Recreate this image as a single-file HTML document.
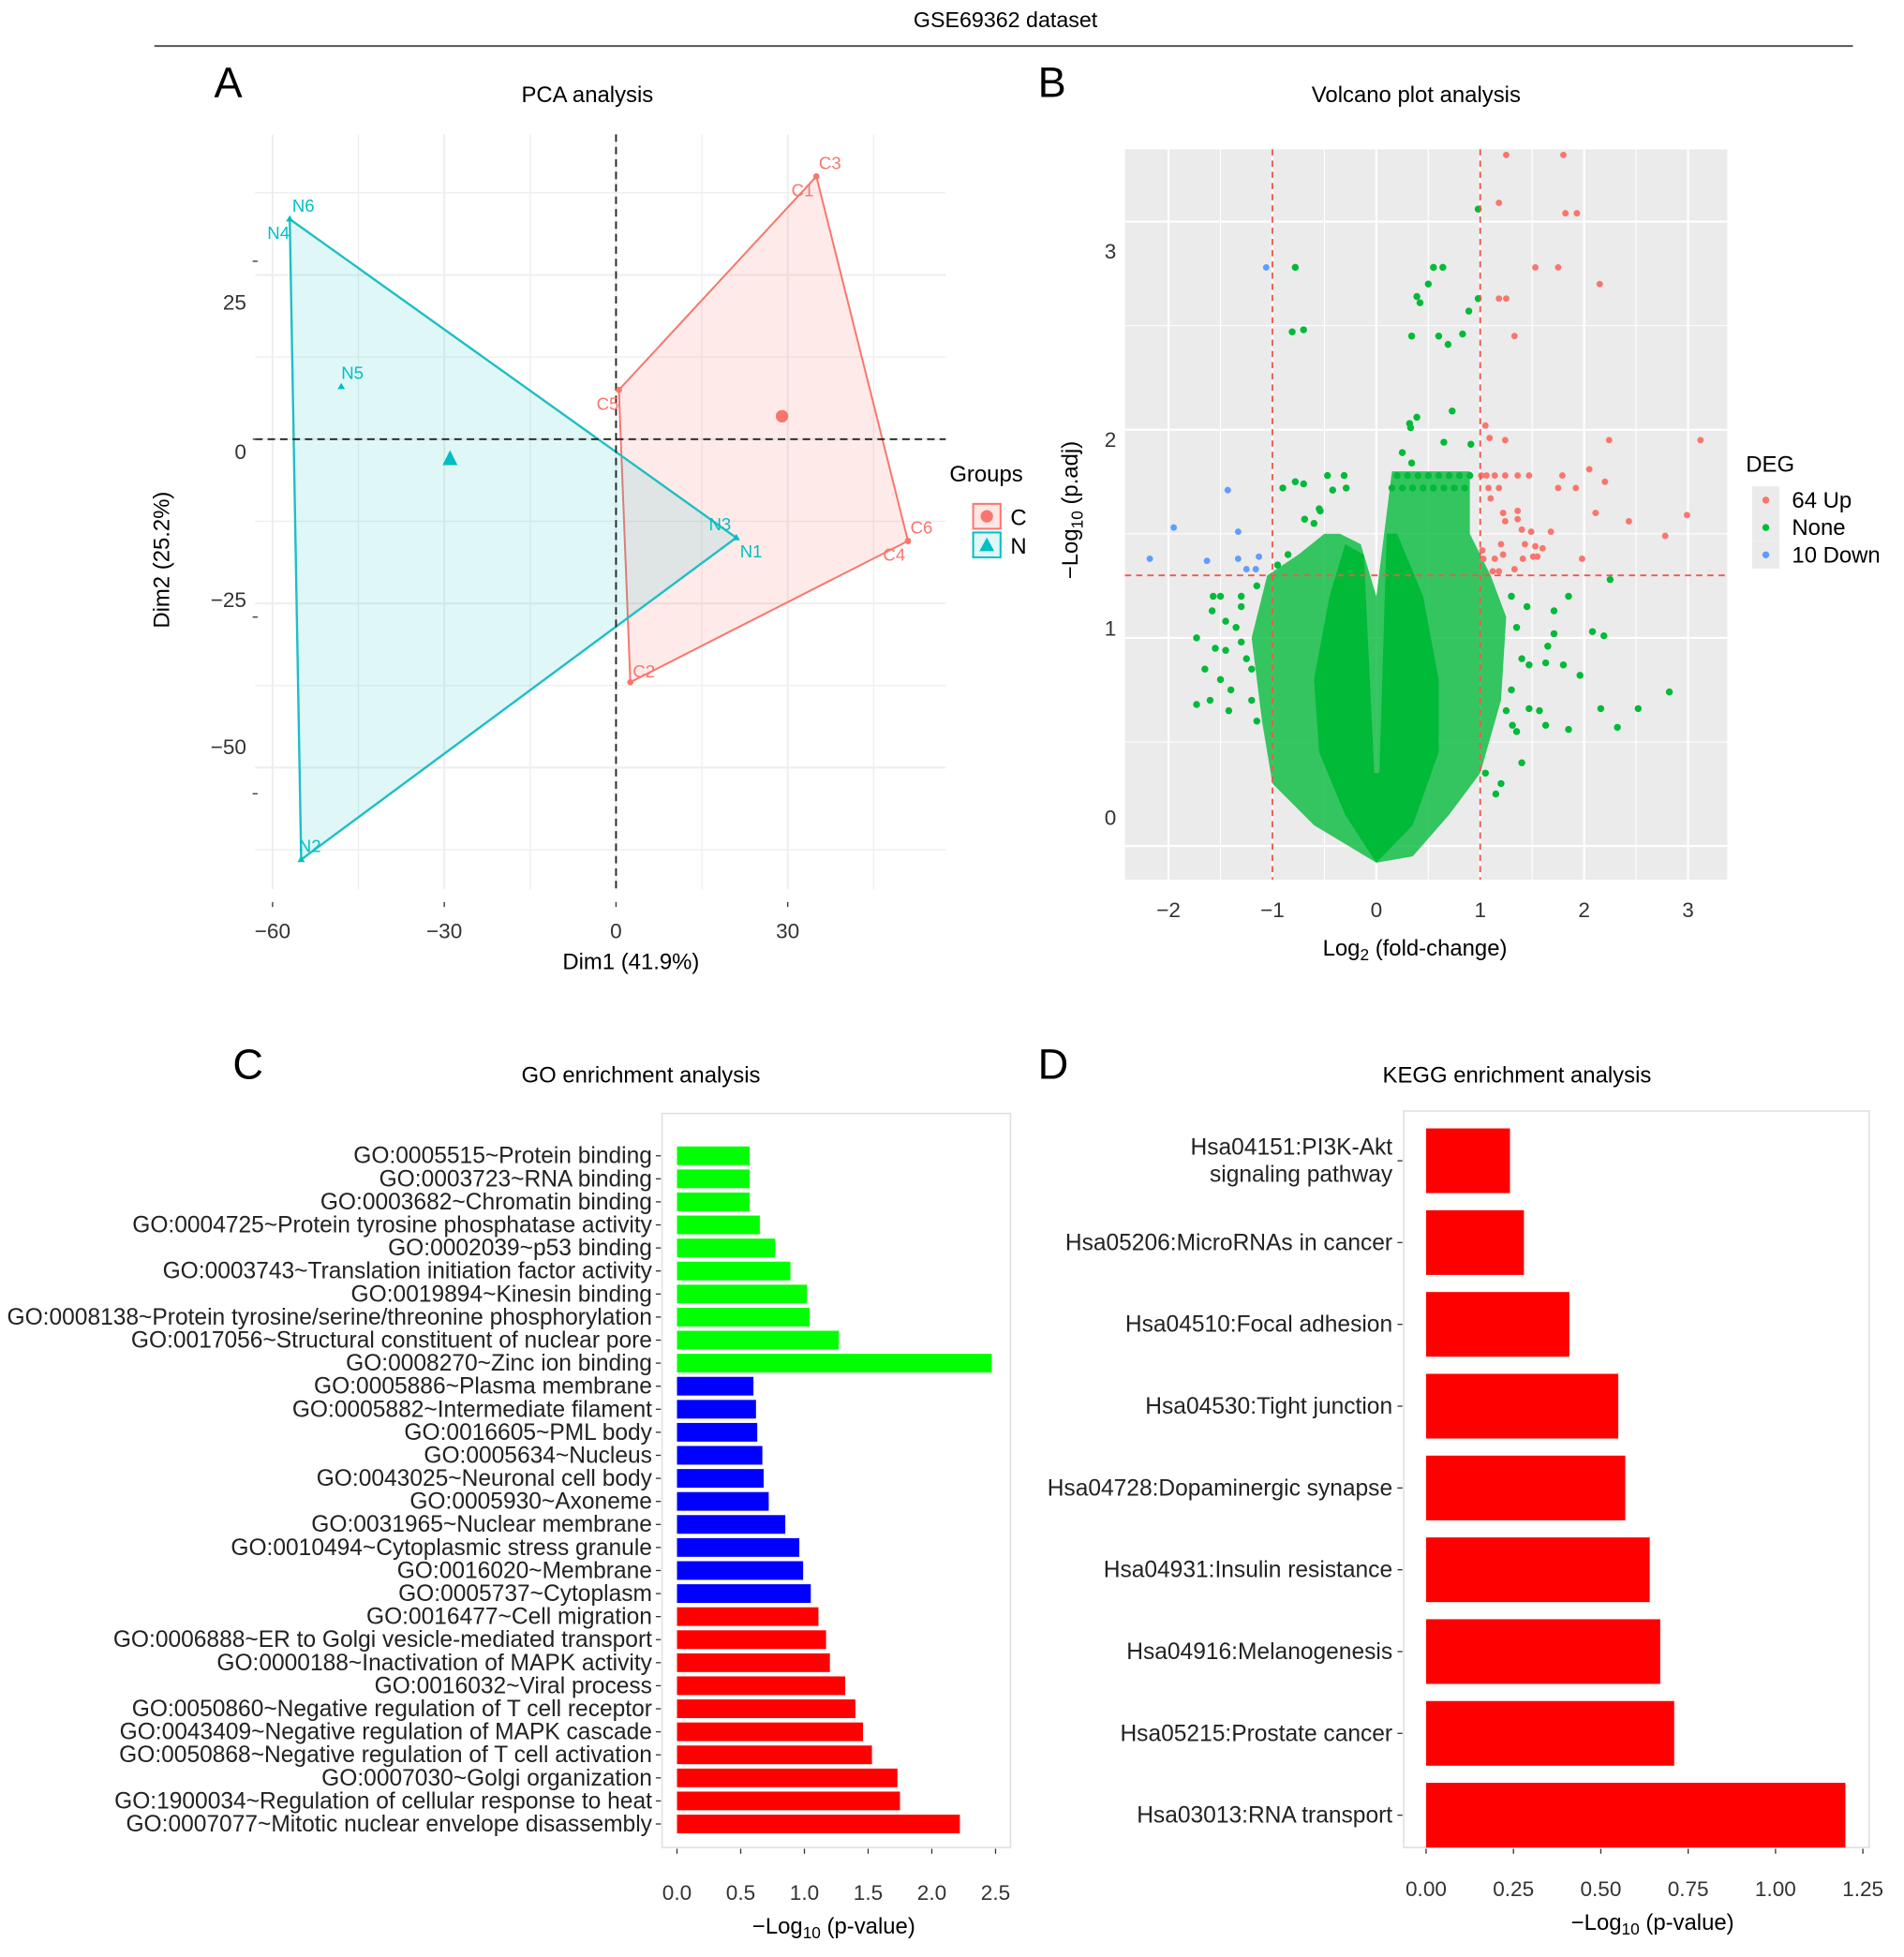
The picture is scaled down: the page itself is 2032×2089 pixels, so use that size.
<!DOCTYPE html>
<html><head><meta charset="utf-8"><style>
html,body{margin:0;padding:0;background:#fff}
svg{display:block;font-family:"Liberation Sans",sans-serif}
</style></head><body>
<svg id="fig" width="2032" height="2089" viewBox="0 0 1530 1573" xmlns="http://www.w3.org/2000/svg">
<text x="808" y="22" font-size="17.5" text-anchor="middle">GSE69362 dataset</text>
<line x1="124" y1="37" x2="1489" y2="37" stroke="#555" stroke-width="1.5"/>
<g id="pA"></g>
<g id="pB"></g>
<g id="pC"></g>
<g id="pD"></g>
</svg>
<script>
// ---------- PCA data ----------
const pcaNames = ["N6","N4","N5","N2","N3","N1","C3","C1","C5","C6","C4","C2"];
const pcaX = [-57,-57,-48,-55,21,21,35,35,0.5,51,51,2.5];
const pcaY = [33.5,33.5,8,-64,-15,-15,40,40,7.5,-15.5,-15.5,-37];
const pcaGroup = ["N","N","N","N","N","N","C","C","C","C","C","C"];
const hullN = ["N6","N2","N1"];
const hullC = ["C3","C6","C2","C5"];
const centroidX = [29,-29];
const centroidY = [3.5,-3];
const pcaXTicks = [-60,-30,0,30];
const pcaYTicks = [25,0,-25,-50];

// ---------- Volcano data ----------
const upX = [1.25,1.80,1.18,1.82,1.93,1.53,1.75,2.15,1.18,1.25,1.33,1.05,1.09,1.24,2.24,3.12,1.01,1.06,1.14,1.24,1.36,1.47,1.79,2.05,1.75,1.92,2.20,1.08,1.18,1.10,1.22,1.36,2.11,2.99,2.43,1.24,1.36,1.40,1.49,1.68,2.78,1.20,1.43,1.53,1.60,1.02,1.22,1.03,1.14,1.41,1.51,1.55,1.98,1.12,1.18,1.33];
const upY = [3.32,3.32,3.09,3.04,3.04,2.78,2.78,2.70,2.63,2.63,2.45,2.02,1.96,1.95,1.95,1.95,1.78,1.78,1.78,1.78,1.78,1.78,1.78,1.81,1.72,1.72,1.75,1.72,1.72,1.67,1.60,1.61,1.60,1.59,1.56,1.56,1.57,1.52,1.51,1.51,1.49,1.45,1.45,1.44,1.43,1.42,1.40,1.38,1.38,1.38,1.39,1.39,1.38,1.32,1.32,1.33];
const downX = [-1.06,-1.43,-1.95,-1.33,-2.18,-1.63,-1.33,-1.13,-1.25,-1.16];
const downY = [2.78,1.71,1.53,1.51,1.38,1.37,1.38,1.39,1.33,1.33];
const noneX = [0.98,-0.78,0.55,0.64,0.50,0.39,0.42,0.98,0.89,-0.81,-0.70,0.34,0.60,0.69,0.83,0.73,0.39,0.32,0.33,0.65,0.91,0.25,0.34,-0.78,-0.70,-0.47,-0.31,-0.42,-0.29,-0.54,-0.69,2.25,1.85,1.71,1.71,2.08,2.19,1.65,1.47,1.63,1.80,1.96,2.82,2.16,2.52,2.32,1.85,1.63,1.47,1.57,1.31,-1.73,-1.73,-1.60,-1.42,-1.57,-1.50,-1.58,-1.45,0.2,0.3,0.4,0.5,0.6,0.7,0.8,0.9,0.15,0.25,0.35,0.45,0.55,0.65,0.75,0.85,-0.9,-1.3,-1.35,-1.5,-1.25,-1.15,-1.4,-1.2,-1.3,-1.55,-1.65,-1.45,-1.3,-1.2,-1.15,1.3,1.35,1.4,1.3,1.25,1.45,1.35,1.4,1.2,1.15,1.05,-0.95,-0.85,-0.6,-0.55];
const noneY = [3.06,2.78,2.78,2.78,2.70,2.64,2.61,2.63,2.57,2.47,2.48,2.45,2.45,2.41,2.46,2.09,2.06,2.03,2.01,1.94,1.93,1.89,1.84,1.75,1.74,1.78,1.78,1.71,1.72,1.61,1.57,1.28,1.20,1.13,1.02,1.03,1.01,0.96,0.87,0.88,0.87,0.82,0.74,0.66,0.66,0.57,0.56,0.58,0.66,0.65,0.58,1.00,0.68,0.70,0.65,1.20,1.20,1.13,0.94,1.78,1.78,1.78,1.78,1.78,1.78,1.78,1.78,1.72,1.72,1.72,1.72,1.72,1.72,1.72,1.72,1.72,1.20,1.05,0.80,0.90,0.60,0.75,0.85,0.98,0.95,0.85,1.08,1.15,0.70,1.25,1.20,1.05,0.90,0.75,0.65,1.15,0.55,0.40,0.30,0.25,0.35,1.35,1.40,1.55,1.62];
const sparseX = [0,-0.6,-1.0,-1.1,-1.2,-1.05,-0.75,-0.5,-0.35,-0.15,0,0.1,0.15,0.9,0.9,1.1,1.25,1.2,1.0,0.7,0.35];
const sparseY = [-0.08,0.1,0.3,0.6,1.0,1.3,1.4,1.5,1.5,1.45,1.2,1.6,1.8,1.8,1.5,1.3,1.1,0.7,0.35,0.15,-0.05];
const denseX = [0,-0.3,-0.55,-0.6,-0.45,-0.3,-0.12,-0.02,0.03,0.1,0.2,0.45,0.6,0.6,0.35];
const denseY = [-0.08,0.15,0.45,0.8,1.2,1.45,1.4,0.35,0.35,1.5,1.5,1.2,0.8,0.45,0.1];
const volXTicks = [-2,-1,0,1,2,3];
const volYTicks = [0,1,2,3];

// ---------- GO data ----------
const goTerms = ["GO:0005515~Protein binding","GO:0003723~RNA binding","GO:0003682~Chromatin binding","GO:0004725~Protein tyrosine phosphatase activity","GO:0002039~p53 binding","GO:0003743~Translation initiation factor activity","GO:0019894~Kinesin binding","GO:0008138~Protein tyrosine/serine/threonine phosphorylation","GO:0017056~Structural constituent of nuclear pore","GO:0008270~Zinc ion binding","GO:0005886~Plasma membrane","GO:0005882~Intermediate filament","GO:0016605~PML body","GO:0005634~Nucleus","GO:0043025~Neuronal cell body","GO:0005930~Axoneme","GO:0031965~Nuclear membrane","GO:0010494~Cytoplasmic stress granule","GO:0016020~Membrane","GO:0005737~Cytoplasm","GO:0016477~Cell migration","GO:0006888~ER to Golgi vesicle-mediated transport","GO:0000188~Inactivation of MAPK activity","GO:0016032~Viral process","GO:0050860~Negative regulation of T cell receptor","GO:0043409~Negative regulation of MAPK cascade","GO:0050868~Negative regulation of T cell activation","GO:0007030~Golgi organization","GO:1900034~Regulation of cellular response to heat","GO:0007077~Mitotic nuclear envelope disassembly"];
const goValues = [0.57,0.57,0.57,0.65,0.77,0.89,1.02,1.04,1.27,2.47,0.60,0.62,0.63,0.67,0.68,0.72,0.85,0.96,0.99,1.05,1.11,1.17,1.20,1.32,1.40,1.46,1.53,1.73,1.75,2.22];
const goCategory = ["MF","MF","MF","MF","MF","MF","MF","MF","MF","MF","CC","CC","CC","CC","CC","CC","CC","CC","CC","CC","BP","BP","BP","BP","BP","BP","BP","BP","BP","BP"];
const goTicks = [0,0.5,1,1.5,2,2.5];
const goTickLabels = ["0.0","0.5","1.0","1.5","2.0","2.5"];

// ---------- KEGG data ----------
const keggTerms = [["Hsa04151:PI3K-Akt","signaling pathway"],["Hsa05206:MicroRNAs in cancer"],["Hsa04510:Focal adhesion"],["Hsa04530:Tight junction"],["Hsa04728:Dopaminergic synapse"],["Hsa04931:Insulin resistance"],["Hsa04916:Melanogenesis"],["Hsa05215:Prostate cancer"],["Hsa03013:RNA transport"]];
const keggValues = [0.24,0.28,0.41,0.55,0.57,0.64,0.67,0.71,1.20];
const keggTicks = [0,0.25,0.5,0.75,1,1.25];
const keggTickLabels = ["0.00","0.25","0.50","0.75","1.00","1.25"];

const NS="http://www.w3.org/2000/svg";
function mk(parent,tag,attrs,text){const e=document.createElementNS(NS,tag);for(const k in attrs)e.setAttribute(k,attrs[k]);if(text!==undefined)e.textContent=text;parent.appendChild(e);return e;}

// ===== Panel A =====
(function(){
const g=document.getElementById('pA');
const sx=v=>495+v*4.6, sy=v=>353-v*5.28;
let t=mk(g,'text',{x:172,y:78,'font-size':34});t.textContent='A';


t=mk(g,'text',{x:472,y:82,'font-size':18,'text-anchor':'middle'},'PCA analysis');


for(const v of [-60,-45,-30,-15,0,15,30,45]){const l=mk(g,'line',{x1:sx(v),x2:sx(v),y1:108,y2:715,stroke:'#eeeeee','stroke-width':v%30===0?1.5:1});

}
for(const v of [37.5,25,12.5,0,-12.5,-25,-37.5,-50,-62.5]){const l=mk(g,'line',{x1:205,x2:760,y1:sy(v),y2:sy(v),stroke:'#eeeeee','stroke-width':v%25===0?1.5:1});

}
const idx=n=>pcaNames.indexOf(n);
const pts=h=>h.map(n=>sx(pcaX[idx(n)])+','+sy(pcaY[idx(n)])).join(' ');
let p=mk(g,'polygon',{points:pts(hullC),fill:'#f8766d','fill-opacity':0.15,stroke:'#f8766d','stroke-width':1.5});


p=mk(g,'polygon',{points:pts(hullN),fill:'#00bfc4','fill-opacity':0.12,stroke:'#1fbfc4','stroke-width':1.8});


let l=mk(g,'line',{x1:205,x2:760,y1:sy(0),y2:sy(0),stroke:'#222','stroke-dasharray':'6,4','stroke-width':1.4});


l=mk(g,'line',{x1:sx(0),x2:sx(0),y1:108,y2:715,stroke:'#222','stroke-dasharray':'6,4','stroke-width':1.4});


const lblOff={N6:[2,-6],N4:[-18,16],N5:[0,-6],N2:[-2,-6],N3:[-22,-6],N1:[3,16],C3:[2,-6],C1:[-20,16],C5:[-18,16],C6:[2,-6],C4:[-20,16],C2:[2,-4]};
pcaNames.forEach((n,i)=>{const x=sx(pcaX[i]),y=sy(pcaY[i]);const col=pcaGroup[i]==='C'?'#f8766d':'#00bfc4';
let m;
if(pcaGroup[i]==='C'){m=mk(g,'circle',{cx:x,cy:y,r:2.5,fill:col});}
else{m=mk(g,'polygon',{points:`${x},${y-3} ${x-3},${y+2} ${x+3},${y+2}`,fill:col});}


const tx=mk(g,'text',{x:x+lblOff[n][0],y:y+lblOff[n][1],'font-size':14,fill:col},n);

});
let c=mk(g,'circle',{cx:sx(centroidX[0]),cy:sy(centroidY[0]),r:5,fill:'#f8766d'});


const nx=sx(centroidX[1]),ny=sy(centroidY[1]);
c=mk(g,'polygon',{points:`${nx},${ny-7} ${nx-6},${ny+5} ${nx+6},${ny+5}`,fill:'#00bfc4'});


pcaXTicks.forEach(v=>{const tt=mk(g,'text',{x:sx(v),y:754,'font-size':17,'text-anchor':'middle',fill:'#333'},v===0?'0':(v<0?'−'+(-v):v));


const tk=mk(g,'line',{x1:sx(v),x2:sx(v),y1:725,y2:729,stroke:'#333'});

});
const yLab={25:249,0:369,'-25':488,'-50':606};
pcaYTicks.forEach(v=>{const tt=mk(g,'text',{x:198,y:yLab[v],'font-size':17,'text-anchor':'end',fill:'#333'},v<0?'−'+(-v):String(v));


const tk=mk(g,'line',{x1:203,x2:207,y1:sy(v)+(v===25?-11:v===0?0:v===-25?11:21),y2:sy(v)+(v===25?-11:v===0?0:v===-25?11:21),stroke:'#333'});

});
t=mk(g,'text',{x:507,y:779,'font-size':18,'text-anchor':'middle'},'Dim1 (41.9%)');


t=mk(g,'text',{x:136,y:450,'font-size':18,'text-anchor':'middle',transform:'rotate(-90 136 450)'},'Dim2 (25.2%)');


t=mk(g,'text',{x:763,y:387,'font-size':18},'Groups');


let r=mk(g,'rect',{x:782,y:405,width:22,height:20,fill:'#fde8e6',stroke:'#f8766d','stroke-width':1.5});


mk(g,'circle',{cx:793,cy:415,r:5,fill:'#f8766d'});
r=mk(g,'rect',{x:782,y:428,width:22,height:20,fill:'#e0f6f7',stroke:'#00bfc4','stroke-width':1.5});


mk(g,'polygon',{points:'793,432 787,443 799,443',fill:'#00bfc4'});
t=mk(g,'text',{x:812,y:422,'font-size':18},'C');


t=mk(g,'text',{x:812,y:445,'font-size':18},'N');


})();

// ===== Panel B =====
(function(){
const g=document.getElementById('pB');
const sx=v=>1106+v*83.5, sy=v=>680-v*167.3;
let t=mk(g,'text',{x:834,y:78,'font-size':34},'B');


t=mk(g,'text',{x:1138,y:82,'font-size':18,'text-anchor':'middle'},'Volcano plot analysis');


let r=mk(g,'rect',{x:904,y:120,width:484,height:587,fill:'#ebebeb'});


for(let v=-2;v<=3;v+=0.5){const l=mk(g,'line',{x1:sx(v),x2:sx(v),y1:120,y2:707,stroke:'#fff','stroke-width':Number.isInteger(v)?1.6:0.8});

}
for(let v=-0.5;v<=3.5;v+=0.5){const y=sy(v);if(y<120||y>707)continue;const l=mk(g,'line',{x1:904,x2:1388,y1:y,y2:y,stroke:'#fff','stroke-width':Number.isInteger(v)?1.6:0.8});

}
const poly=(xs,ys)=>xs.map((x,i)=>sx(x)+','+sy(ys[i])).join(' ');
let p=mk(g,'polygon',{points:poly(sparseX,sparseY),fill:'#00ba38','fill-opacity':0.78});


p=mk(g,'polygon',{points:poly(denseX,denseY),fill:'#00ba38'});


noneX.forEach((x,i)=>{const c=mk(g,'circle',{cx:sx(x),cy:sy(noneY[i]),r:2.8,fill:'#00ba38'});

});
upX.forEach((x,i)=>{const c=mk(g,'circle',{cx:sx(x),cy:sy(upY[i]),r:2.6,fill:'#f8766d'});

});
downX.forEach((x,i)=>{const c=mk(g,'circle',{cx:sx(x),cy:sy(downY[i]),r:2.6,fill:'#619cff'});

});
for(const v of [-1,1]){const l=mk(g,'line',{x1:sx(v),x2:sx(v),y1:120,y2:707,stroke:'#f0584a','stroke-dasharray':'5,4','stroke-width':1.4});

}
let l=mk(g,'line',{x1:904,x2:1388,y1:sy(1.3),y2:sy(1.3),stroke:'#f0584a','stroke-dasharray':'5,4','stroke-width':1.4});


volXTicks.forEach(v=>{const tt=mk(g,'text',{x:sx(v),y:737,'font-size':17,'text-anchor':'middle',fill:'#333'},v<0?'−'+(-v):String(v));

});
const yl={0:663,1:511,2:359,3:208};
volYTicks.forEach(v=>{const tt=mk(g,'text',{x:897,y:yl[v],'font-size':17,'text-anchor':'end',fill:'#333'},String(v));

});
t=mk(g,'text',{x:1137,y:768,'font-size':18,'text-anchor':'middle'});
t.innerHTML='Log<tspan font-size="13" dy="4">2</tspan><tspan dy="-4"> (fold-change)</tspan>';


t=mk(g,'text',{x:866,y:410,'font-size':18,'text-anchor':'middle',transform:'rotate(-90 866 410)'});
t.innerHTML='−Log<tspan font-size="13" dy="4">10</tspan><tspan dy="-4"> (p.adj)</tspan>';


t=mk(g,'text',{x:1403,y:379,'font-size':18},'DEG');


const lg=[['64 Up','#f8766d',402],['None','#00ba38',424],['10 Down','#619cff',446]];
lg.forEach(e=>{const k=mk(g,'rect',{x:1408,y:e[2]-11,width:22,height:22,fill:'#ebebeb'});


mk(g,'circle',{cx:1419,cy:e[2],r:2.8,fill:e[1]});
const tt=mk(g,'text',{x:1440,y:e[2]+6,'font-size':18},e[0]);

});
})();

// ===== Panel C =====
(function(){
const g=document.getElementById('pC');
const sx=v=>544+v*102.4;
const y0=929, step=18.52, bh=15;
let t=mk(g,'text',{x:187,y:867,'font-size':34},'C');


t=mk(g,'text',{x:515,y:870,'font-size':18,'text-anchor':'middle'},'GO enrichment analysis');


let r=mk(g,'rect',{x:532,y:895,width:280,height:590,fill:'#fff',stroke:'#e0e0e0','stroke-width':1.2});


const colors={MF:'#00ff00',CC:'#0000ff',BP:'#ff0000'};
goTerms.forEach((term,i)=>{const y=y0+i*step;
const b=mk(g,'rect',{x:sx(0),y:y-bh/2,width:sx(goValues[i])-sx(0),height:bh,fill:colors[goCategory[i]]});


const tt=mk(g,'text',{x:524,y:y+6,'font-size':18.5,'text-anchor':'end',fill:'#222'},term);


mk(g,'line',{x1:527,x2:531,y1:y,y2:y,stroke:'#333'});});
goTicks.forEach((v,i)=>{const tt=mk(g,'text',{x:sx(v),y:1527,'font-size':17,'text-anchor':'middle',fill:'#333'},goTickLabels[i]);


mk(g,'line',{x1:sx(v),x2:sx(v),y1:1486,y2:1490,stroke:'#333'});});
t=mk(g,'text',{x:670,y:1554,'font-size':18,'text-anchor':'middle'});
t.innerHTML='−Log<tspan font-size="13" dy="4">10</tspan><tspan dy="-4"> (p-value)</tspan>';


})();

// ===== Panel D =====
(function(){
const g=document.getElementById('pD');
const sx=v=>1146+v*280.8;
const y0=933, step=65.75, bh=52;
let t=mk(g,'text',{x:834,y:867,'font-size':34},'D');


t=mk(g,'text',{x:1219,y:870,'font-size':18,'text-anchor':'middle'},'KEGG enrichment analysis');


let r=mk(g,'rect',{x:1128,y:893,width:374,height:592,fill:'#fff',stroke:'#e0e0e0','stroke-width':1.2});


keggTerms.forEach((term,i)=>{const y=y0+i*step;
const b=mk(g,'rect',{x:sx(0),y:y-bh/2,width:sx(keggValues[i])-sx(0),height:bh,fill:'#ff0000'});


term.forEach((line,j)=>{const tt=mk(g,'text',{x:1119,y:y+6+(term.length>1?(j-0.5)*22:0),'font-size':18.5,'text-anchor':'end',fill:'#222'},line);

});
mk(g,'line',{x1:1123,x2:1127,y1:y,y2:y,stroke:'#333'});});
keggTicks.forEach((v,i)=>{const tt=mk(g,'text',{x:sx(v),y:1524,'font-size':17,'text-anchor':'middle',fill:'#333'},keggTickLabels[i]);


mk(g,'line',{x1:sx(v),x2:sx(v),y1:1486,y2:1490,stroke:'#333'});});
t=mk(g,'text',{x:1328,y:1551,'font-size':18,'text-anchor':'middle'});
t.innerHTML='−Log<tspan font-size="13" dy="4">10</tspan><tspan dy="-4"> (p-value)</tspan>';


})();
</script>
</body></html>
